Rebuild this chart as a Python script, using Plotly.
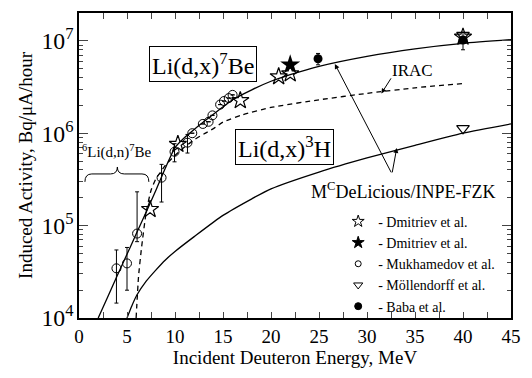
import plotly.graph_objects as go
import math

FONT = "Liberation Serif"

# ---- data ----
# Li(d,x)7Be MCDeLicious/INPE-FZK calculation
be7_calc_E = [2, 3, 4, 5, 6, 7, 8, 9, 10, 11, 12, 14, 16, 18, 20, 22, 25, 30, 35, 40, 45]
be7_calc_A = [1.0e4, 1.7e4, 2.9e4, 4.9e4, 8.3e4, 1.4e5, 2.4e5, 4.2e5, 7.0e5, 9.0e5, 1.1e6,
              1.6e6, 2.3e6, 2.95e6, 3.65e6, 4.3e6, 5.3e6, 6.8e6, 8.2e6, 9.4e6, 1.03e7]
# IRAC calculation
irac_E = [5.95, 6.2, 6.5, 7.0, 7.5, 8.0, 8.5, 9.0, 10, 11, 12, 13, 14, 15, 17, 20, 25, 30, 35, 40]
irac_A = [1.0e4, 2.8e4, 5.6e4, 1.4e5, 2.4e5, 3.2e5, 3.8e5, 4.5e5, 5.75e5, 7.1e5, 8.5e5,
          9.8e5, 1.12e6, 1.32e6, 1.58e6, 1.9e6, 2.3e6, 2.7e6, 3.1e6, 3.45e6]
# Li(d,x)3H calculation
h3_E = [5.0, 5.5, 6, 7, 8, 9, 10, 12, 15, 18, 20, 25, 30, 35, 40, 45]
h3_A = [1.0e4, 1.35e4, 1.75e4, 2.5e4, 3.3e4, 4.25e4, 5.25e4, 7.6e4, 1.29e5, 1.95e5,
        2.5e5, 3.8e5, 5.4e5, 7.4e5, 1.0e6, 1.26e6]

# Experimental data
dmit_open_E = [7.4, 10.3, 16.8, 20.8, 22.0, 40.0]
dmit_open_A = [1.5e5, 7.6e5, 2.26e6, 4.1e6, 4.4e6, 1.1e7]
dmit_fill_E = [22.0]
dmit_fill_A = [5.5e6]
mukh_E = [3.9, 5.0, 6.05, 8.6, 9.95, 11.3, 11.8, 12.9, 13.5, 13.9, 14.7, 15.1, 15.6, 16.0]
mukh_A = [3.45e4, 3.9e4, 8.2e4, 3.3e5, 6.3e5, 7.9e5, 1.0e6, 1.26e6, 1.33e6, 1.56e6,
          2.04e6, 2.23e6, 2.4e6, 2.6e6]
mukh_err_up = [2.0e4, 1.9e4, 1.5e5, 1.3e5, 1.4e5, 1.8e5, 0, 0, 0, 0, 0, 0, 0, 0]
mukh_err_dn = [2.0e4, 1.9e4, 1.5e4, 1.5e5, 1.4e5, 1.8e5, 0, 0, 0, 0, 0, 0, 0, 0]
moll_E = [40.0, 40.0]
moll_A = [1.15e7, 1.13e6]
baba_E = [24.9, 40.0]
baba_A = [6.4e6, 1.02e7]
baba_err = [0.9e6, 2.2e6]

legend_names = ["- Dmitriev et al.", "- Dmitriev et al.", "- Mukhamedov et al.",
                "- Möllendorff et al.", "- Baba et al."]

# ---- figure ----
fig = go.Figure()
line_style = dict(color="black", width=1.3)

fig.add_trace(go.Scatter(x=be7_calc_E, y=be7_calc_A, mode="lines",
                         line=dict(shape="spline", smoothing=0.6, **line_style), showlegend=False))
fig.add_trace(go.Scatter(x=irac_E, y=irac_A, mode="lines",
                         line=dict(shape="spline", smoothing=0.5, dash="5px,4px", **line_style), showlegend=False))
fig.add_trace(go.Scatter(x=h3_E, y=h3_A, mode="lines",
                         line=dict(shape="spline", smoothing=0.6, **line_style), showlegend=False))

eb = dict(color="black", thickness=1, width=2)
fig.add_trace(go.Scatter(x=mukh_E, y=mukh_A, mode="markers", showlegend=False,
                         marker=dict(symbol="circle-open", size=9, color="black", line=dict(width=1)),
                         error_y=dict(type="data", array=mukh_err_up, arrayminus=mukh_err_dn, symmetric=False, **eb)))
fig.add_trace(go.Scatter(x=dmit_open_E, y=dmit_open_A, mode="markers", showlegend=False,
                         marker=dict(symbol="star-open", size=13, color="black", line=dict(width=1.2))))
fig.add_trace(go.Scatter(x=dmit_fill_E, y=dmit_fill_A, mode="markers", showlegend=False,
                         marker=dict(symbol="star", size=15, color="black")))
fig.add_trace(go.Scatter(x=moll_E, y=moll_A, mode="markers", showlegend=False,
                         marker=dict(symbol="triangle-down-open", size=11, color="black", line=dict(width=1.2))))
fig.add_trace(go.Scatter(x=baba_E, y=baba_A, mode="markers", showlegend=False,
                         marker=dict(symbol="circle", size=9, color="black"),
                         error_y=dict(type="data", array=baba_err, **eb)))

# legend entries (small markers)
leg_symbols = ["star-open", "star", "circle-open", "triangle-down-open", "circle"]
leg_sizes = [9, 9, 6, 8, 7]
for name, sym, sz in zip(legend_names, leg_symbols, leg_sizes):
    fig.add_trace(go.Scatter(x=[None], y=[None], mode="markers", name=name,
                             marker=dict(symbol=sym, size=sz, color="black", line=dict(width=1, color="black"))))

# ---- annotations ----
ann = []
box = dict(bordercolor="black", borderwidth=1, borderpad=2, bgcolor="white", showarrow=False)
ann.append(dict(x=12.9, y=6.75, text="Li(d,x)<sup>7</sup>Be", font=dict(size=24, family=FONT, color="black"), **box))
ann.append(dict(x=21.4, y=5.85, text="Li(d,x)<sup>3</sup>H", font=dict(size=24, family=FONT, color="black"), **box))
ann.append(dict(x=34.7, y=6.68, text="IRAC", showarrow=False, font=dict(size=17, family=FONT, color="black")))
ann.append(dict(x=33.8, y=5.38, text="M<sup>C</sup>DeLicious/INPE-FZK", showarrow=False, font=dict(size=18, family=FONT, color="black")))
ann.append(dict(x=4.0, y=5.80, text="<sup>6</sup>Li(d,n)<sup>7</sup>Be", showarrow=False, font=dict(size=15, family=FONT, color="black")))
arr = dict(showarrow=True, arrowhead=2, arrowsize=1, arrowwidth=1, arrowcolor="black", text="", axref="x", ayref="y")
ann.append(dict(x=31.5, y=6.43, ax=32.6, ay=6.61, **arr))
ann.append(dict(x=26.65, y=6.75, ax=32.6, ay=5.56, **arr))
ann.append(dict(x=33.1, y=5.84, ax=32.6, ay=5.56, **arr))

# brace (drawn in paper coords)
PL, PR, PT, PB = 79, 518, 11, 318
def P(px, py):
    return f"{(px - PL) / (PR - PL):.4f},{(PB - py) / (PB - PT):.4f}"
brace = ("M " + P(85, 181) + " Q " + P(85, 173) + " " + P(92, 173) + " L " + P(111, 173) +
         " Q " + P(118, 173) + " " + P(118, 166) + " Q " + P(118, 173) + " " + P(125, 173) +
         " L " + P(143, 173) + " Q " + P(150, 173) + " " + P(150, 181))

fig.update_layout(
    width=532, height=378,
    margin=dict(l=PL, r=532 - PR, t=PT, b=378 - PB),
    paper_bgcolor="white", plot_bgcolor="white",
    font=dict(family=FONT, color="black", size=19),
    annotations=ann,
    shapes=[dict(type="path", path=brace, xref="paper", yref="paper", line=dict(color="black", width=1))],
    legend=dict(x=0.6, y=0.368, xanchor="left", yanchor="top", bgcolor="rgba(0,0,0,0)",
                font=dict(size=14, family=FONT), tracegroupgap=0, itemwidth=30),
    xaxis=dict(range=[0, 45], dtick=5, tick0=0, ticks="inside", ticklen=6, tickwidth=1,
               showline=True, linecolor="black", linewidth=1.5, mirror="allticks",
               showgrid=False, zeroline=False,
               minor=dict(dtick=2.5, ticks="inside", ticklen=6, tickwidth=1, showgrid=False),
               title=dict(text="Incident Deuteron Energy, MeV", font=dict(size=19), standoff=2),
               tickfont=dict(size=19)),
    yaxis=dict(type="log", range=[4, 7.301], dtick=1, ticks="inside", ticklen=9, tickwidth=1,
               exponentformat="power", showexponent="all",
               showline=True, linecolor="black", linewidth=1.5, mirror="allticks",
               showgrid=False, zeroline=False,
               minor=dict(dtick="D1", ticks="inside", ticklen=4, tickwidth=1, showgrid=False),
               title=dict(text="Induced Activity, Bq/μA/hour", font=dict(size=19), standoff=4),
               tickfont=dict(size=19)),
)

fig.write_html("out.html")
